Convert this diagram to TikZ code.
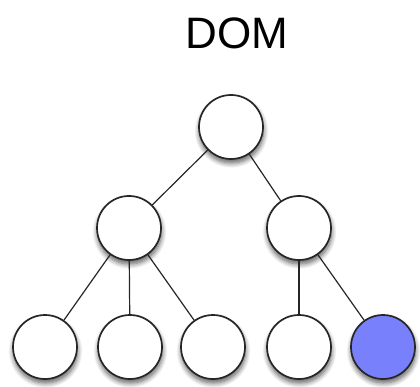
\documentclass[tikz,border=0pt]{standalone}
\usepackage{fontspec}
\setmainfont{Liberation Sans}
\usetikzlibrary{shadows.blur}
\definecolor{leafblue}{RGB}{120,128,252}

\begin{document}
\begin{tikzpicture}[x=1pt,y=-1pt,
		dom/.style={circle, draw=black!85, line width=1.7pt, fill=white, minimum size=64pt, inner sep=0pt,
			blur shadow={shadow xshift=0.5pt, shadow yshift=-4pt, shadow blur steps=8, shadow blur radius=5pt, shadow opacity=65}},
		link/.style={line width=1.2pt, black!85}]
			%%%%% START %%%%%
			\useasboundingbox (0, 0) rectangle (420, 387);
			
			\node (title) at (237, 33) {\fontsize{44}{50}\selectfont DOM};
			
			\node[dom] (root) at (231, 127) {};
			
			\node[dom] (left) at (129, 228) {};
			\node[dom] (right) at (299, 228) {};
			
			\node[dom] (leafa) at (45, 347) {};
			\node[dom] (leafb) at (130, 347) {};
			\node[dom] (leafc) at (213, 347) {};
			\node[dom] (leafd) at (299, 347) {};
			\node[dom, fill=leafblue] (leafe) at (383, 347) {};
			
			\draw[link] (root) -- (left);
			\draw[link] (root) -- (right);
			\draw[link] (left) -- (leafa);
			\draw[link] (left) -- (leafb);
			\draw[link] (left) -- (leafc);
			\draw[link] (right) -- (leafd);
			\draw[link] (right) -- (leafe);
			
			%%%%% END %%%%%
\end{tikzpicture}
\end{document}
